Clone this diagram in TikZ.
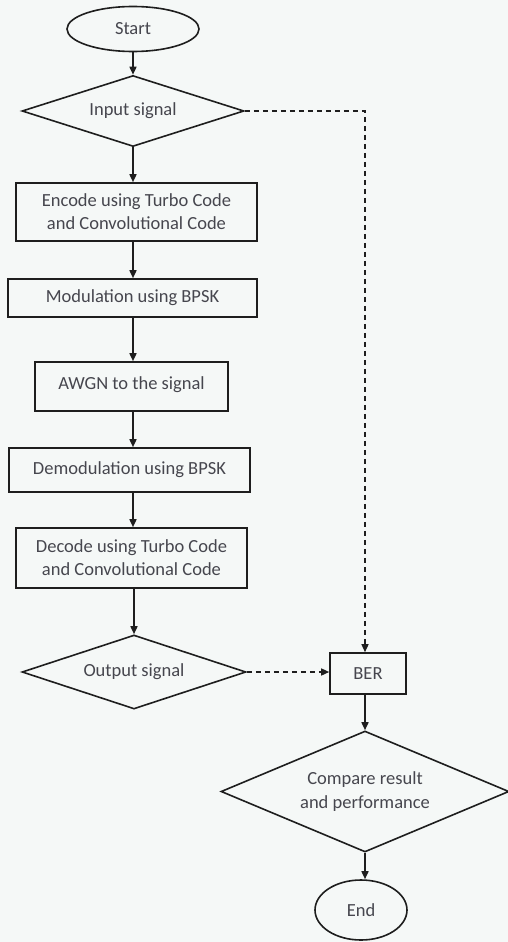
\documentclass[tikz,border=0pt]{standalone}
\usepackage{fontspec}
\setmainfont{Carlito}
\usetikzlibrary{shapes.geometric,arrows.meta}
\definecolor{bgc}{RGB}{245,248,247}
\definecolor{linec}{RGB}{30,30,30}
\definecolor{textc}{RGB}{70,70,78}
\begin{document}
\begin{tikzpicture}[x=1pt,y=-1pt,
  every node/.style={font=\fontsize{18.5}{23}\selectfont, text=textc, align=center, inner sep=0pt},
  shp/.style={draw=linec, line width=1.6pt},
  procbox/.style={shp, rectangle},
  term/.style={shp, ellipse},
  decis/.style={shp, diamond},
  flow/.style={draw=linec, line width=1.6pt, -{Triangle[length=8pt,width=7pt]}},
  dflow/.style={draw=linec, line width=1.4pt, dash pattern=on 5pt off 4pt}
]
\useasboundingbox (0,0) rectangle (508,942);
\fill[bgc] (0,0) rectangle (508,942);

\node[term, minimum width=132pt, minimum height=45pt] (start) at (133,29) {Start};
\node[decis, aspect=3.1, minimum width=222pt, minimum height=71pt] (input) at (133,111) {\raisebox{2pt}{Input signal}};
\node[procbox, minimum width=241pt, minimum height=58pt] (encode) at (136.5,212) {Encode using Turbo Code\\and Convolutional Code};
\node[procbox, minimum width=249pt, minimum height=38pt] (mod) at (132.5,298) {Modulation using BPSK};
\node[procbox, minimum width=193pt, minimum height=49pt] (awgn) at (131.5,386.5) {\raisebox{6pt}{AWGN to the signal}};
\node[procbox, minimum width=241pt, minimum height=44pt] (demod) at (129.5,470) {\raisebox{3pt}{Demodulation using BPSK}};
\node[procbox, minimum width=231pt, minimum height=60pt] (decode) at (131.5,558) {Decode using Turbo Code\\and Convolutional Code};
\node[decis, aspect=3.0, minimum width=224pt, minimum height=74pt] (output) at (134,672) {\raisebox{3pt}{Output signal}};
\node[procbox, minimum width=76pt, minimum height=41pt] (ber) at (368,673.5) {BER};
\node[decis, aspect=2.4, minimum width=288pt, minimum height=121pt] (compare) at (365,791.5) {\raisebox{3pt}{\begin{tabular}{@{}c@{}}Compare result\\[1pt]and performance\end{tabular}}};
\node[term, minimum width=92pt, minimum height=60pt] (end) at (361,910) {End};

\draw[flow] (start.south) -- (input.north);
\draw[flow] (input.south) -- (input.south |- encode.north);
\draw[flow] (input.south |- encode.south) -- (input.south |- mod.north);
\draw[flow] (input.south |- mod.south) -- (input.south |- awgn.north);
\draw[flow] (input.south |- awgn.south) -- (input.south |- demod.north);
\draw[flow] (input.south |- demod.south) -- (input.south |- decode.north);
\draw[flow] (output.north |- decode.south) -- (output.north);
\draw[dflow, -{Triangle[length=8pt,width=7pt]}] (output.east) -- (output.east -| ber.west);
\draw[dflow, -{Triangle[length=8pt,width=7pt]}] (input.east) -| ([xshift=-3pt]ber.north);
\draw[flow] (ber.south -| compare.north) -- (compare.north);
\draw[flow] (compare.south) -- (compare.south |- end.north);
\end{tikzpicture}
\end{document}
